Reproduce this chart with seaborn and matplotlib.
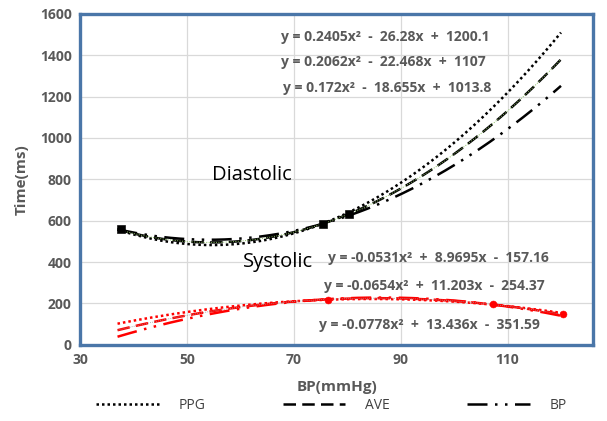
import numpy as np
import pandas as pd
import matplotlib
matplotlib.use("Agg")
import matplotlib.pyplot as plt
import seaborn as sns
from matplotlib.lines import Line2D

# Trendline coefficients (a, b, c) for y = a x^2 + b x + c
methods = ["PPG", "AVE", "BP"]
diastolic_coef = [[0.2405, -26.28, 1200.1], [0.2062, -22.468, 1107.0], [0.172, -18.655, 1013.8]]
systolic_coef = [[-0.0531, 8.9695, -157.16], [-0.0654, 11.203, -254.37], [-0.0778, 13.436, -351.59]]
diastolic_labels = ["y = 0.2405x\u00b2  -  26.28x  +  1200.1",
                    "y = 0.2062x\u00b2  -  22.468x  +  1107",
                    "y = 0.172x\u00b2  -  18.655x  +  1013.8"]
systolic_labels = ["y = -0.0531x\u00b2  +  8.9695x  -  157.16",
                   "y = -0.0654x\u00b2  +  11.203x  -  254.37",
                   "y = -0.0778x\u00b2  +  13.436x  -  351.59"]
x_start, x_end = 37.0, 120.0

# Observed marker points
dia_pts_x = [37.7, 75.4, 80.3]
dia_pts_y = [559, 583, 632]
sys_pts_x = [76.4, 107.2, 120.3]
sys_pts_y = [219, 199, 151]

x_ticks = [30, 50, 70, 90, 110]
y_ticks = [0, 200, 400, 600, 800, 1000, 1200, 1400, 1600]

sns.set_theme(style="white")
plt.rcParams['font.family'] = ['Open Sans', 'DejaVu Sans']

xs = np.linspace(x_start, x_end, 200)
rows = []
for m, cd, cs in zip(methods, diastolic_coef, systolic_coef):
    for x in xs:
        rows.append(dict(x=x, y=np.polyval(cd, x), method=m, kind="Diastolic"))
        rows.append(dict(x=x, y=np.polyval(cs, x), method=m, kind="Systolic"))
df = pd.DataFrame(rows)

fig = plt.figure(figsize=(6.07, 4.21), dpi=100)
ax = fig.add_axes([0.132, 0.181, 0.845, 0.786])

styles = {"PPG": (0, (1, 1.2)), "AVE": (0, (5, 2.5)), "BP": (0, (8, 3, 1, 3, 1, 3))}
for kind, color in [("Diastolic", "black"), ("Systolic", "#ff0000")]:
    for m in methods:
        sub = df[(df.kind == kind) & (df.method == m)]
        sns.lineplot(data=sub, x="x", y="y", ax=ax, color=color, lw=1.8,
                     linestyle=styles[m], legend=False)
ave_d = df[(df.kind == "Diastolic") & (df.method == "AVE")]
sns.lineplot(data=ave_d, x="x", y="y", ax=ax, color="#8cc063", lw=0.7,
             linestyle=(0, (1, 1.5)), legend=False)
ave_s = df[(df.kind == "Systolic") & (df.method == "AVE")]
sns.lineplot(data=ave_s, x="x", y="y", ax=ax, color="#999999", lw=0.6,
             linestyle=(0, (1, 1.5)), legend=False)

sns.scatterplot(x=dia_pts_x, y=dia_pts_y, ax=ax, color="black", marker="s", s=30, edgecolor="black", zorder=5)
sns.scatterplot(x=sys_pts_x, y=sys_pts_y, ax=ax, color="#ff0000", marker="o", s=25, edgecolor="#ff0000", zorder=5)

ax.set_xlim(30, 126)
ax.set_ylim(0, 1600)
ax.set_xticks(x_ticks)
ax.set_yticks(y_ticks)
ax.grid(True, color="#d9d9d9", lw=0.9)
for s in ax.spines.values():
    s.set_color("#4a76a8")
    s.set_linewidth(2.4)
ax.tick_params(axis="both", labelsize=10, colors="#595959", length=0, pad=6)
for lab in ax.get_xticklabels() + ax.get_yticklabels():
    lab.set_fontweight("bold")
ax.set_xlabel("BP(mmHg)", fontsize=11, fontweight="bold", color="#595959", labelpad=9)
ax.set_ylabel("Time(ms)", fontsize=11, fontweight="bold", color="#595959", labelpad=8)

eq_color = "#595959"
for lab, (xx, yy) in zip(diastolic_labels, [(67.6, 1488), (67.6, 1367), (68.0, 1240)]):
    ax.text(xx, yy, lab, fontsize=10, fontweight="bold", color=eq_color, va="center")
for lab, (xx, yy) in zip(systolic_labels, [(76.4, 418), (75.6, 282), (74.7, 97)]):
    ax.text(xx, yy, lab, fontsize=10, fontweight="bold", color=eq_color, va="center")
ax.text(54.7, 822, "Diastolic", fontsize=14.5, color="black", va="center")
ax.text(60.5, 399, "Systolic", fontsize=14.5, color="black", va="center")

handles = [Line2D([], [], color="black", lw=1.8, linestyle=styles[m]) for m in methods]
fig.legend(handles, methods, loc="lower center", bbox_to_anchor=(0.546, -0.01), ncol=3,
           frameon=False, handlelength=4.5, handletextpad=1.4, columnspacing=5.6,
           prop={"size": 10}, labelcolor="#404040")

fig.savefig("out.png", dpi=100)
